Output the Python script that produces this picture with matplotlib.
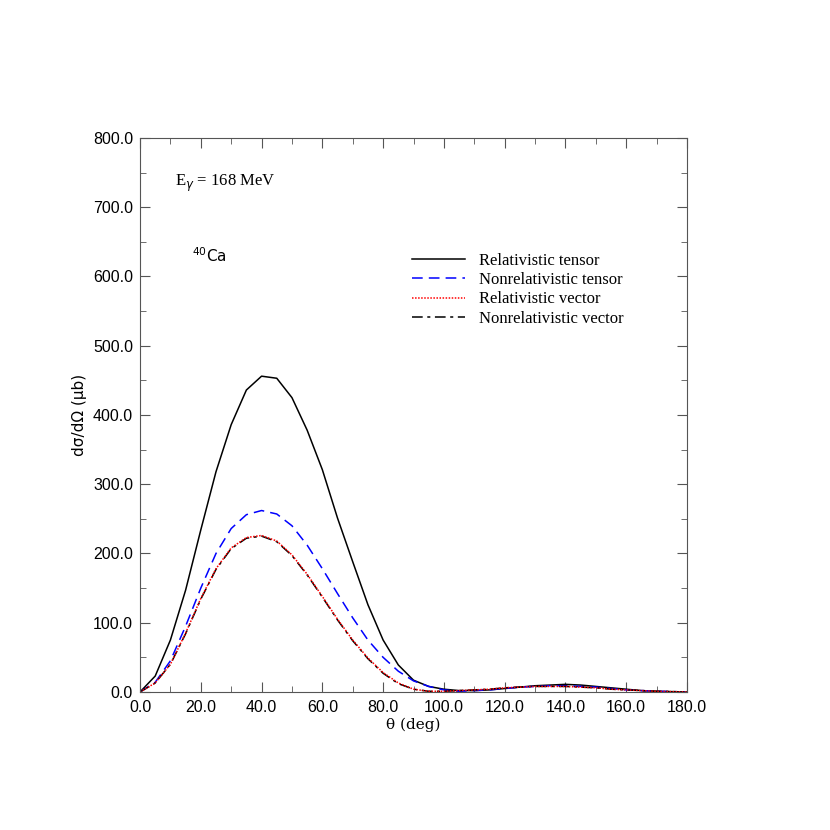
import matplotlib
matplotlib.use("Agg")
import matplotlib.pyplot as plt
from matplotlib.ticker import MultipleLocator, FormatStrFormatter

theta = list(range(0, 181, 5))
rel_tensor = [0, 23, 75, 147, 234, 318, 386, 436, 456, 453, 425, 378, 321, 251, 188, 126, 75, 39, 17, 8, 4, 2, 2, 3, 5, 7, 9, 10, 11, 10, 8, 6, 4, 2, 1, 0.5, 0]
nonrel_tensor = [0, 14, 45, 95, 150, 200, 236, 256, 262, 257, 240, 212, 178, 142, 107, 75, 50, 30, 16, 8, 3, 1, 2, 3, 5, 7, 8, 9, 9, 8, 7, 5, 3, 2, 1, 0.5, 0]
rel_vector = [0, 13, 40, 85, 135, 178, 208, 223, 226, 218, 198, 170, 138, 105, 75, 49, 28, 13, 4, 1, 1, 2, 3, 4, 6, 7, 8, 8, 8, 7, 6, 4, 3, 2, 1, 0.5, 0]
nonrel_vector = [0, 13, 40, 84, 134, 177, 207, 222, 225, 217, 197, 169, 137, 104, 74, 48, 27, 12, 4, 1, 1, 2, 3, 4, 6, 7, 8, 8, 8, 7, 6, 4, 3, 2, 1, 0.5, 0]

fig = plt.figure(figsize=(8.3, 8.3), dpi=100)
ax = fig.add_axes([0.1687, 0.1663, 0.659, 0.6675])
ax.plot(theta, rel_tensor, color="black", lw=1.1, label="Relativistic tensor")
ax.plot(theta, nonrel_tensor, color="blue", lw=1.1, dashes=(7, 4), label="Nonrelativistic tensor")
ax.plot(theta, nonrel_vector, color="black", lw=1.1, dashes=(7, 3, 2, 3), label="Nonrelativistic vector")
ax.plot(theta, rel_vector, color="red", lw=1.1, linestyle=(0, (1, 1)), label="Relativistic vector")
ax.set_xlim(0, 180)
ax.set_ylim(0, 800)
ax.xaxis.set_major_locator(MultipleLocator(20))
ax.xaxis.set_minor_locator(MultipleLocator(10))
ax.yaxis.set_major_locator(MultipleLocator(100))
ax.yaxis.set_minor_locator(MultipleLocator(50))
ax.xaxis.set_major_formatter(FormatStrFormatter("%.1f"))
ax.yaxis.set_major_formatter(FormatStrFormatter("%.1f"))
ax.tick_params(which="both", direction="in", top=True, right=True, colors="#555555", labelcolor="black")
ax.tick_params(axis="both", labelsize=11.5)
ax.tick_params(axis="x", pad=6)
ax.tick_params(axis="y", pad=5)
ax.tick_params(which="major", length=7)
ax.tick_params(which="minor", length=4)
for lab in ax.get_xticklabels() + ax.get_yticklabels():
    lab.set_fontfamily("Liberation Sans")
for s in ax.spines.values():
    s.set_color("#555555")
ax.set_xlabel("θ (deg)", fontfamily="DejaVu Serif", fontsize=11, labelpad=2)
ax.set_ylabel("dσ/dΩ (μb)", fontfamily="DejaVu Sans", fontsize=11)
ax.text(11.5, 735, r"E$_\gamma$ = 168 MeV", fontfamily="Liberation Serif", fontsize=12, va="center")
ax.text(17, 630, r"$^{40}$Ca", fontsize=11, va="center")
h, l = ax.get_legend_handles_labels()
order = [0, 1, 3, 2]
ax.legend([h[i] for i in order], [l[i] for i in order], loc="upper left", bbox_to_anchor=(0.47, 0.82),
          frameon=False, prop={"family": "Liberation Serif", "size": 12}, handlelength=3.2, labelspacing=0.2)
fig.savefig("out.png", dpi=100)
